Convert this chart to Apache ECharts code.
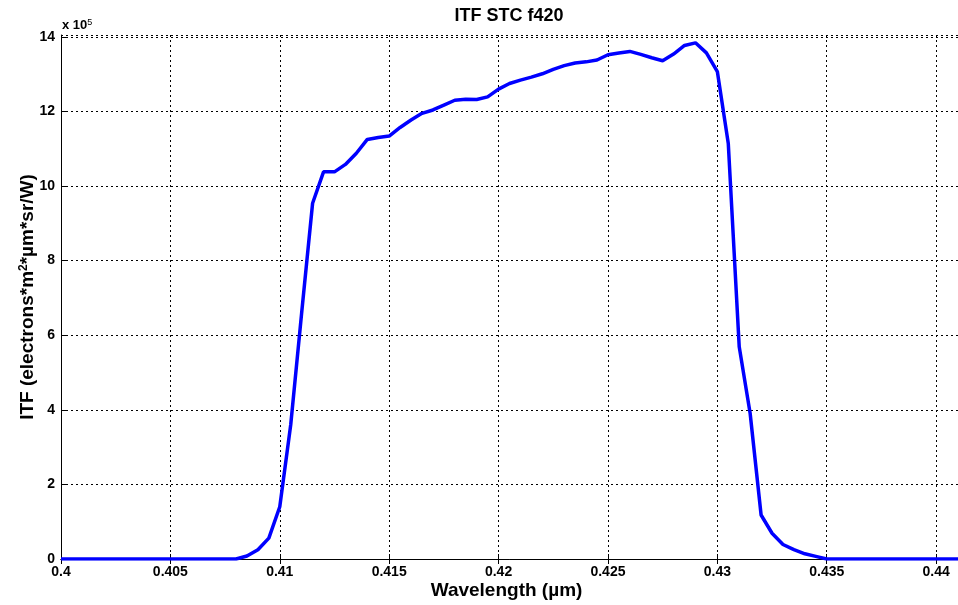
<!DOCTYPE html>
<html>
<head>
<meta charset="utf-8">
<script src="https://cdn.jsdelivr.net/npm/echarts@6/dist/echarts.min.js"></script>
<style>html,body{margin:0;padding:0;background:#fff;}#c{width:958px;height:605px;}</style>
</head>
<body>
<div id="c"></div>
<script>
// Wavelength (µm)
const wavelengths = [0.400, 0.408, 0.4085, 0.409, 0.4095, 0.410, 0.4105, 0.411, 0.4115, 0.412, 0.4125, 0.413, 0.4135, 0.414, 0.4145, 0.415, 0.4155, 0.416, 0.4165, 0.417, 0.4175, 0.418, 0.4185, 0.419, 0.4195, 0.420, 0.4205, 0.421, 0.4215, 0.422, 0.4225, 0.423, 0.4235, 0.424, 0.4245, 0.425, 0.4255, 0.426, 0.4265, 0.427, 0.4275, 0.428, 0.4285, 0.429, 0.4295, 0.430, 0.4305, 0.431, 0.4315, 0.432, 0.4325, 0.433, 0.4335, 0.434, 0.4345, 0.435, 0.441];
// ITF values, in units of 10^5
const itfValues = [0, 0, 0.08, 0.25, 0.56, 1.40, 3.6, 6.6, 9.54, 10.38, 10.38, 10.58, 10.88, 11.25, 11.3, 11.34, 11.57, 11.77, 11.95, 12.04, 12.17, 12.3, 12.33, 12.32, 12.39, 12.6, 12.75, 12.84, 12.92, 13.01, 13.13, 13.23, 13.3, 13.33, 13.38, 13.52, 13.57, 13.61, 13.53, 13.44, 13.36, 13.54, 13.77, 13.84, 13.57, 13.07, 11.14, 5.69, 3.9, 1.18, 0.69, 0.39, 0.25, 0.14, 0.07, 0, 0];
const xTicks = [0.4, 0.405, 0.41, 0.415, 0.42, 0.425, 0.43, 0.435, 0.44];
const yTicks = [0, 2, 4, 6, 8, 10, 12, 14];

const FONT = '"Liberation Sans", Arial, sans-serif';
const data = wavelengths.map((w, i) => [w, itfValues[i]]);

function isTick(list, v) { return list.some(t => Math.abs(t - v) < 1e-9); }

const chart = echarts.init(document.getElementById('c'), null, {renderer: 'canvas'});
chart.setOption({
  animation: false,
  backgroundColor: '#fff',
  title: {
    text: 'ITF STC f420',
    left: 504, top: 2, textAlign: 'center',
    textStyle: {fontFamily: FONT, fontSize: 18, fontWeight: 'bold', color: '#000'}
  },
  grid: {left: 61, top: 35, right: -4, bottom: 46, containLabel: false},
  xAxis: [{
    type: 'value', min: 0.4, max: 0.441, interval: 0.005,
    name: 'Wavelength (µm)', nameLocation: 'middle', nameGap: 22, nameMoveOverlap: false,
    nameTextStyle: {fontFamily: FONT, fontSize: 19, fontWeight: 'bold', color: '#000', padding: [0, 0, 0, -6]},
    axisLine: {show: true, onZero: false, lineStyle: {color: '#000', width: 1}},
    axisTick: {show: true, inside: true, length: 5, lineStyle: {color: '#000'}},
    axisLabel: {
      fontFamily: FONT, fontSize: 14, fontWeight: 'bold', color: '#000', margin: 6,
      showMaxLabel: false,
      formatter: v => isTick(xTicks, v) ? String(+v.toFixed(4)) : ''
    },
    splitLine: {show: true, lineStyle: {color: '#000', type: [2, 3], width: 1}}
  }, {
    type: 'value', position: 'top', min: 0.4, max: 0.441, interval: 0.005,
    axisLine: {show: true, lineStyle: {color: '#000', width: 1}},
    axisTick: {show: true, inside: true, length: 5, lineStyle: {color: '#000'}},
    axisLabel: {show: false}, splitLine: {show: false}
  }],
  yAxis: [{
    type: 'value', min: 0, max: 14.05, interval: 2,
    name: 'ITF (electrons*m{sup|2}*µm*sr/W)', nameLocation: 'middle', nameGap: 24, nameRotate: 90,
    nameMoveOverlap: false,
    nameTextStyle: {
      fontFamily: FONT, fontSize: 19, fontWeight: 'bold', color: '#000',
      rich: {sup: {fontFamily: FONT, fontSize: 12, fontWeight: 'bold', color: '#000', verticalAlign: 'top', lineHeight: 19}}
    },
    axisLine: {show: true, lineStyle: {color: '#000', width: 1}},
    axisTick: {show: true, inside: true, length: 5, lineStyle: {color: '#000'}},
    axisLabel: {
      fontFamily: FONT, fontSize: 14, fontWeight: 'bold', color: '#000', margin: 6,
      showMaxLabel: false,
      formatter: v => isTick(yTicks, v) ? String(Math.round(v)) : ''
    },
    splitLine: {show: true, lineStyle: {color: '#000', type: [2, 3], width: 1}}
  }],
  graphic: [{
    type: 'text', left: 62, top: 18,
    style: {
      text: 'x 10{s|5}',
      rich: {s: {fontSize: 9, fontFamily: FONT, fill: '#000', verticalAlign: 'top', lineHeight: 15}},
      font: 'bold 13px ' + FONT, fill: '#000'
    }
  }],
  series: [{
    type: 'line', data: data, showSymbol: false, symbol: 'none',
    lineStyle: {color: '#0000ff', width: 3.5}, clip: true, z: 5
  }]
});
</script>
</body>
</html>
